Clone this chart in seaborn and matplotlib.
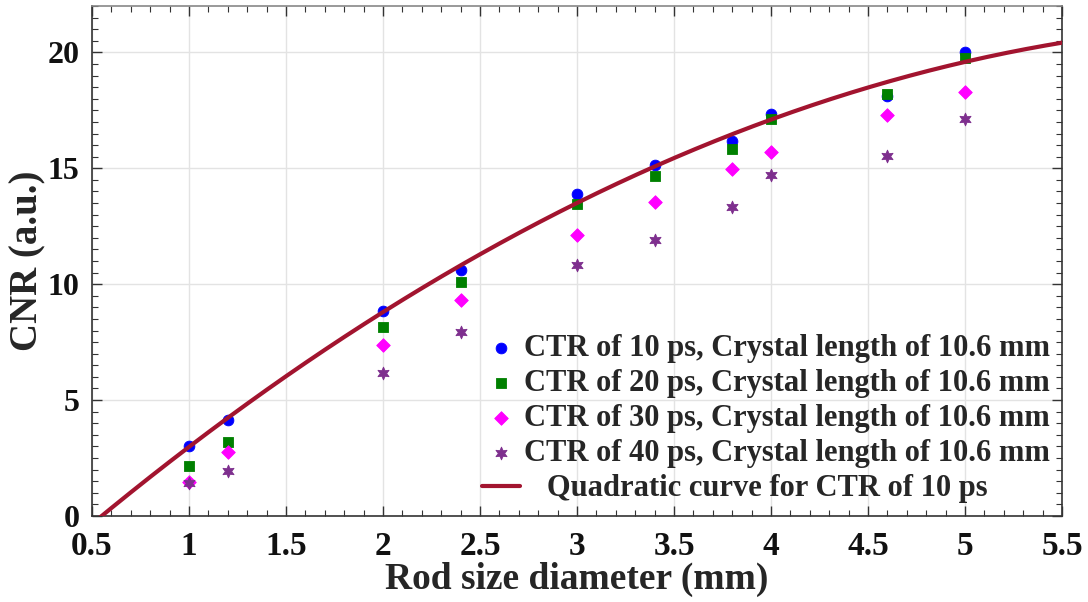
import numpy as np
import pandas as pd
import matplotlib
matplotlib.use("Agg")
import matplotlib.pyplot as plt
from matplotlib.ticker import MultipleLocator
import seaborn as sns

# Rod diameters (mm) and CNR for each coincidence time resolution
rod_diameter = [1.0, 1.2, 2.0, 2.4, 3.0, 3.4, 3.8, 4.0, 4.6, 5.0]
cnr_ctr10 = [3.02, 4.15, 8.86, 10.60, 13.90, 15.13, 16.17, 17.35, 18.11, 20.00]
cnr_ctr20 = [2.17, 3.20, 8.15, 10.10, 13.45, 14.66, 15.85, 17.12, 18.19, 19.77]
cnr_ctr30 = [1.45, 2.76, 7.39, 9.33, 12.14, 13.55, 14.95, 15.71, 17.32, 18.30]
cnr_ctr40 = [1.41, 1.96, 6.18, 7.95, 10.84, 11.89, 13.32, 14.73, 15.52, 17.14]

series_labels = [
    "CTR of 10 ps, Crystal length of 10.6 mm",
    "CTR of 20 ps, Crystal length of 10.6 mm",
    "CTR of 30 ps, Crystal length of 10.6 mm",
    "CTR of 40 ps, Crystal length of 10.6 mm",
]
curve_label = "Quadratic curve for CTR of 10 ps"
x_ticks = [0.5, 1, 1.5, 2, 2.5, 3, 3.5, 4, 4.5, 5, 5.5]
x_tick_labels = ["0.5", "1", "1.5", "2", "2.5", "3", "3.5", "4", "4.5", "5", "5.5"]
y_ticks = [0, 5, 10, 15, 20]

sns.set_theme(style="white")
plt.rcParams["font.family"] = ["Liberation Serif", "DejaVu Serif"]
plt.rcParams["font.weight"] = "bold"

fig = plt.figure(figsize=(10.88, 6.02), dpi=100)
ax = fig.add_axes([0.0846, 0.1429, 0.8915, 0.8471])

colors = ["#0000ff", "#008000", "#ff00ff", "#7e2f8e"]
markers = ["o", "s", "D", (6, 1, 0)]
sizes = [60, 50, 48, 85]
all_series = [cnr_ctr10, cnr_ctr20, cnr_ctr30, cnr_ctr40]

# Quadratic fit of the 10 ps series
coef = np.polyfit(rod_diameter, cnr_ctr10, 2)
xs = np.linspace(0.5, 5.5, 300)
curve = pd.DataFrame({"x": xs, "y": np.polyval(coef, xs)})

for vals, lab, c, m, s in zip(all_series, series_labels, colors, markers, sizes):
    df = pd.DataFrame({"x": rod_diameter, "y": vals})
    sns.scatterplot(data=df, x="x", y="y", ax=ax, color=c, marker=m, s=s,
                    edgecolor=c, linewidth=0.6, label=lab, zorder=3)

sns.lineplot(data=curve, x="x", y="y", ax=ax, color="#a2142f", linewidth=3.0,
             label="   " + curve_label, zorder=4)

ax.set_xlim(0.5, 5.5)
ax.set_ylim(0, 22)
ax.set_xticks(x_ticks)
ax.set_xticklabels(x_tick_labels)
ax.set_yticks(y_ticks)
ax.xaxis.set_minor_locator(MultipleLocator(0.1))
ax.yaxis.set_minor_locator(MultipleLocator(0.5))
ax.grid(True, which="major", color="#e3e3e3", linewidth=1.0)
ax.set_axisbelow(True)

ax.tick_params(which="both", direction="in", top=True, right=True,
               bottom=True, left=True, colors="#333333", labelcolor="#111111")
ax.tick_params(which="major", length=7, width=1.0)
ax.tick_params(which="minor", length=4, width=0.8)
ax.tick_params(axis="x", which="major", labelsize=24, pad=11)
ax.tick_params(axis="y", which="major", labelsize=23, pad=9)
for lbl in ax.get_xticklabels() + ax.get_yticklabels():
    lbl.set_fontweight("bold")

for side, sp in ax.spines.items():
    sp.set_visible(True)
    sp.set_color("#333333")
    sp.set_linewidth(1.2)
ax.spines["top"].set_color("#888888")

ax.set_xlabel("Rod size diameter (mm)", fontsize=27, fontweight="bold", labelpad=0)
ax.set_ylabel("CNR (a.u.)", fontsize=28, fontweight="bold",
              va="center", ha="center")
ax.yaxis.set_label_coords(-0.066, 0.5)

leg = ax.legend(loc="lower right", bbox_to_anchor=(0.988, 0.025), frameon=False,
                handlelength=1.25, handletextpad=0.15, labelspacing=0.2,
                borderaxespad=0.0, borderpad=0.0,
                prop={"weight": "bold", "size": 22})

fig.savefig("out.png", dpi=100)
